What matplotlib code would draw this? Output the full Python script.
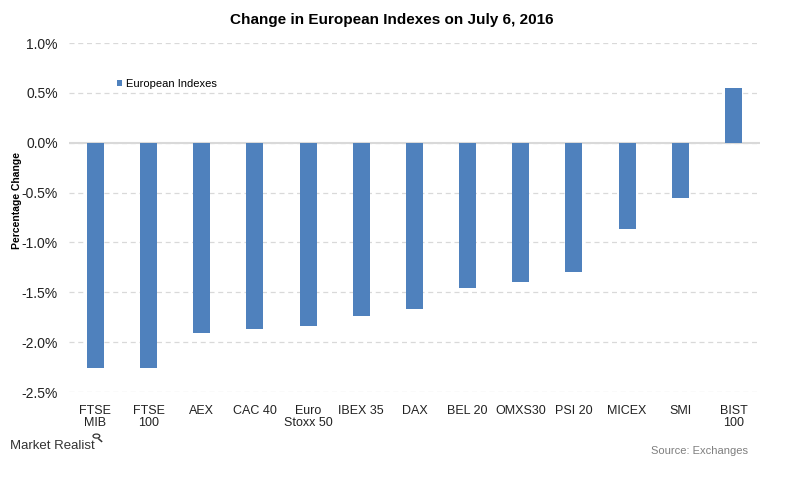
import matplotlib.pyplot as plt
import matplotlib.ticker as mticker
from matplotlib.patches import Circle
from matplotlib.lines import Line2D

# Datos
indexes = ["FTSE\nMIB", "FTSE\n100", "AEX", "CAC 40", "Euro\nStoxx 50", "IBEX 35", "DAX",
           "BEL 20", "OMXS30", "PSI 20", "MICEX", "SMI", "BIST\n100"]
change = [-2.26, -2.26, -1.91, -1.87, -1.84, -1.74, -1.67,
          -1.46, -1.40, -1.30, -0.86, -0.55, 0.55]

font = "Liberation Sans"
blue = "#4f81bd"

fig = plt.figure(figsize=(8, 4.84), dpi=100)
ax = fig.add_axes([0.086, 0.19, 0.864, 0.721])

x = range(len(indexes))
ax.bar(x, change, width=0.32, color=blue, label="European Indexes", zorder=3)

ax.set_xlim(-0.5, len(indexes) - 0.5)
ax.set_ylim(-2.5, 1.0)
ax.yaxis.set_major_locator(mticker.MultipleLocator(0.5))
ax.yaxis.set_major_formatter(mticker.FuncFormatter(lambda v, p: f"{v:.1f}%"))
ax.grid(axis="y", color="#d9d9d9", linestyle=(0, (4, 3)), linewidth=0.9, zorder=0)
ax.axhline(0, color="#d9d9d9", linewidth=1.5, zorder=2)

for s in ax.spines.values():
    s.set_visible(False)
ax.tick_params(length=0)
ax.set_xticks(list(x))
ax.set_xticklabels(indexes, fontfamily=font, fontsize=9, color="#222222", linespacing=1.05)
ax.tick_params(axis="x", pad=9)
ax.tick_params(axis="y", pad=8)
for lab in ax.get_yticklabels():
    lab.set_fontfamily(font)
    lab.set_fontsize(10)
    lab.set_color("#222222")

ax.set_ylabel("Percentage Change", fontfamily=font, fontsize=7.5, fontweight="bold")
ax.yaxis.set_label_coords(-0.068, 0.55)

fig.text(0.49, 0.958, "Change in European Indexes on July 6, 2016", ha="center", va="center",
         fontfamily=font, fontsize=11, fontweight="bold")

leg = ax.legend(loc="upper left", bbox_to_anchor=(0.055, 0.925), frameon=False,
                handlelength=0.45, handleheight=0.45, handletextpad=0.35,
                prop={"family": font, "size": 8})

# pie: logo y fuente
fig.text(0.012, 0.078, "Market Realist", fontfamily=font, fontsize=9.5, color="#333333",
         va="center")
fig.add_artist(Circle((0.1205, 0.099), 0.0042, transform=fig.transFigure, fill=False,
                      edgecolor="#333333", linewidth=0.9))
fig.add_artist(Line2D([0.1235, 0.127], [0.093, 0.088], transform=fig.transFigure,
                      color="#333333", linewidth=1.1))
fig.text(0.935, 0.068, "Source: Exchanges", fontfamily=font, fontsize=8, color="#7f7f7f",
         ha="right", va="center")

fig.savefig("out.png", dpi=100)
